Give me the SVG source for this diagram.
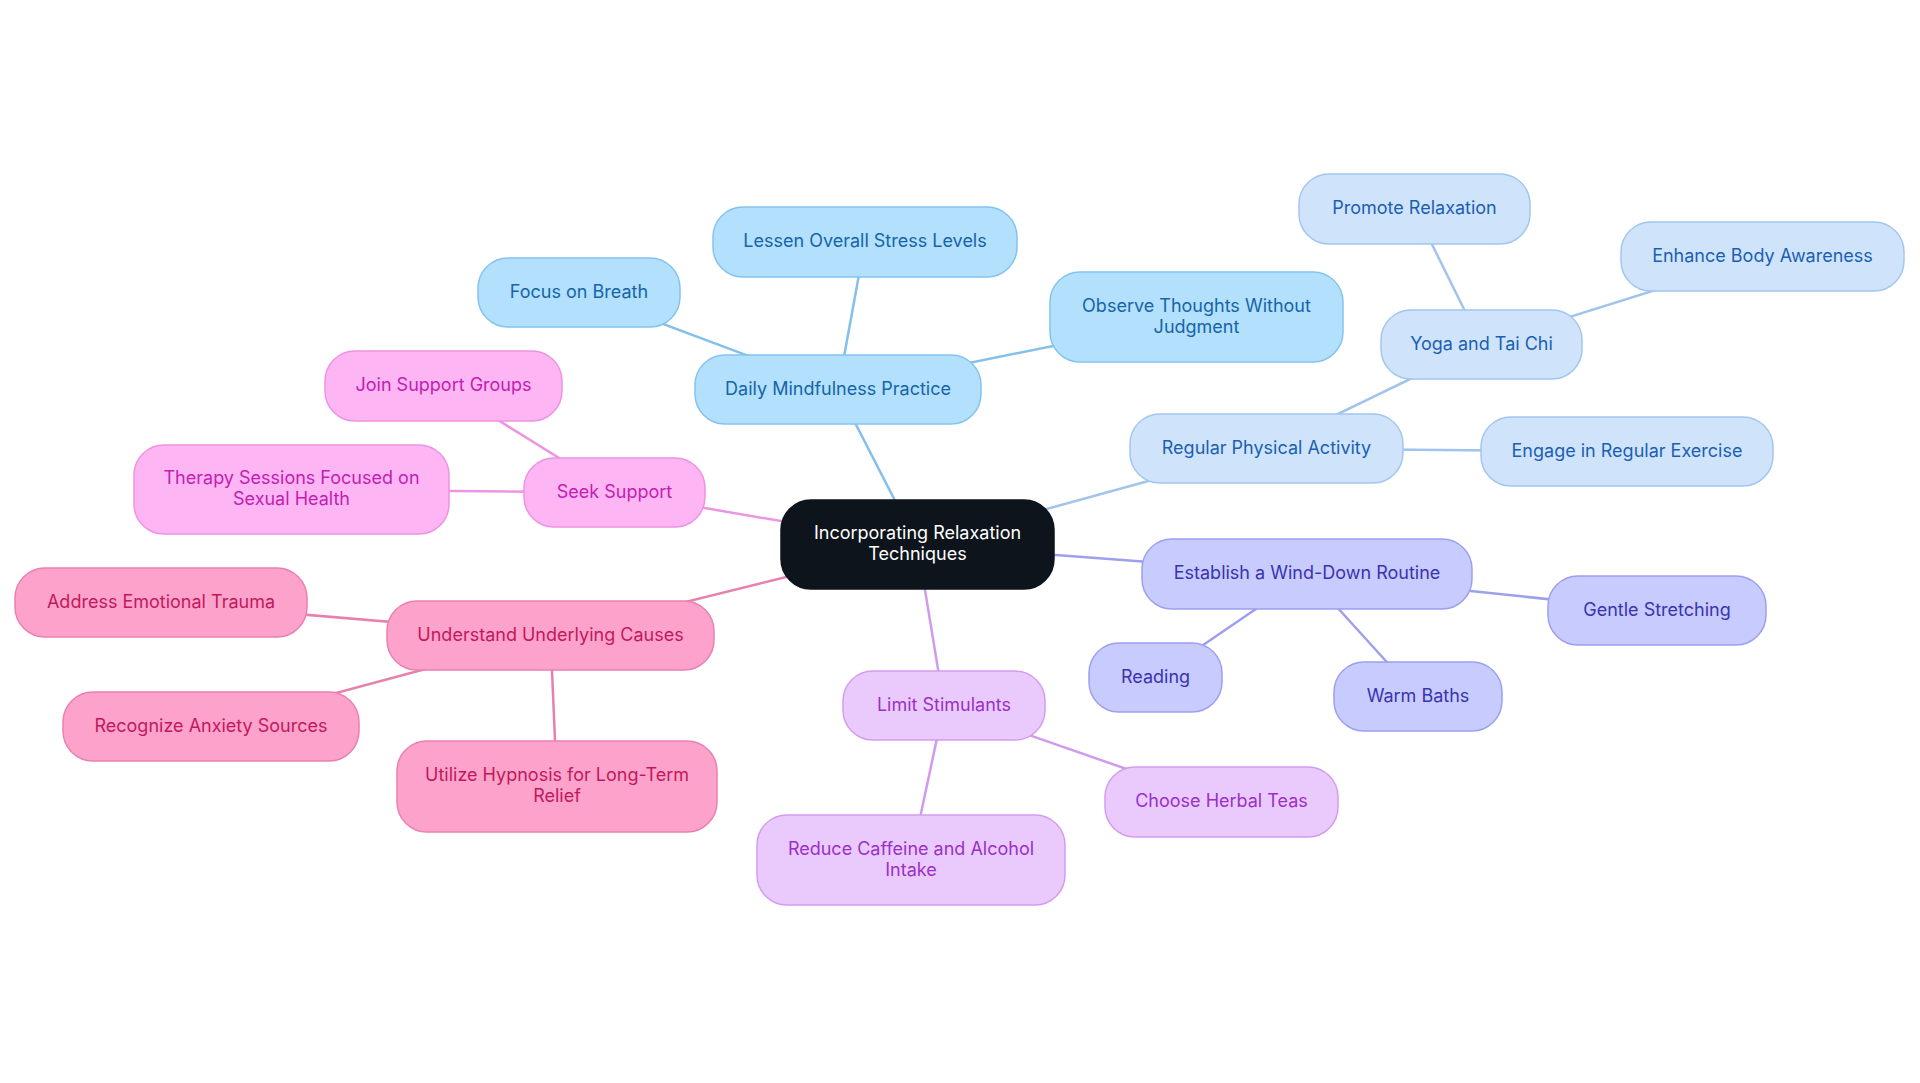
<svg xmlns="http://www.w3.org/2000/svg" width="1920" height="1083" viewBox="0 0 1920 1083">
<style>
text{font-family:Inter,"Noto Sans","Liberation Sans",sans-serif;font-size:18px;text-anchor:middle}
.e{fill:none;stroke-width:2.5}
.n{stroke-width:1.5}
.root rect{fill:#0d141c;stroke:#0d141c}
.root text{fill:#ffffff}
.sb rect{fill:#b3e0fd;stroke:#84c3ee}.sb text{fill:#1565a8}
.lb rect{fill:#cfe4fb;stroke:#a2c6ef}.lb text{fill:#1b5fb3}
.ib rect{fill:#c8cbfd;stroke:#9ca0f0}.ib text{fill:#3a33b0}
.lv rect{fill:#eacafd;stroke:#d39cf0}.lv text{fill:#9a30c6}
.pk rect{fill:#fda3cb;stroke:#ea80b1}.pk text{fill:#c2185b}
.lp rect{fill:#fdb5f4;stroke:#ee92e2}.lp text{fill:#c21eb2}
</style>
<rect width="1920" height="1083" fill="#ffffff"/>
<g id="connectors">
<g stroke="#84c0ea" class="e">
<line x1="917.5" y1="544.5" x2="838" y2="389.5"/>
<line x1="838" y1="389.5" x2="865" y2="242"/>
<line x1="838" y1="389.5" x2="579" y2="292.5"/>
<line x1="838" y1="389.5" x2="1196.5" y2="317"/>
</g>
<g stroke="#a0c4ec" class="e">
<line x1="917.5" y1="544.5" x2="1266.5" y2="448.5"/>
<line x1="1266.5" y1="448.5" x2="1481.5" y2="344.5"/>
<line x1="1266.5" y1="448.5" x2="1627" y2="451.5"/>
<line x1="1481.5" y1="344.5" x2="1414.5" y2="209"/>
<line x1="1481.5" y1="344.5" x2="1762.5" y2="256.5"/>
</g>
<g stroke="#9da0ec" class="e">
<line x1="917.5" y1="544.5" x2="1307" y2="574"/>
<line x1="1307" y1="574" x2="1657" y2="610.5"/>
<line x1="1307" y1="574" x2="1155.5" y2="677.5"/>
<line x1="1307" y1="574" x2="1418" y2="696.5"/>
</g>
<g stroke="#d09bee" class="e">
<line x1="917.5" y1="544.5" x2="944" y2="705.5"/>
<line x1="944" y1="705.5" x2="1221.5" y2="802"/>
<line x1="944" y1="705.5" x2="911" y2="860"/>
</g>
<g stroke="#e880ae" class="e">
<line x1="917.5" y1="544.5" x2="550.5" y2="635.5"/>
<line x1="550.5" y1="635.5" x2="161" y2="602.5"/>
<line x1="550.5" y1="635.5" x2="211" y2="726.5"/>
<line x1="550.5" y1="635.5" x2="557" y2="786.5"/>
</g>
<g stroke="#ee94e2" class="e">
<line x1="917.5" y1="544.5" x2="614.5" y2="492.5"/>
<line x1="614.5" y1="492.5" x2="443.5" y2="386"/>
<line x1="614.5" y1="492.5" x2="291.5" y2="489.5"/>
</g>
</g>

<g id="n-root" class="root"><rect class="n" x="781" y="500" width="273" height="89" rx="30"/><text x="917.5" y="539">Incorporating Relaxation</text><text x="917.5" y="560">Techniques</text></g>

<g id="n-daily" class="sb"><rect class="n" x="695" y="355" width="286" height="69" rx="30"/><text x="838" y="394.5">Daily Mindfulness Practice</text></g>
<g id="n-lessen" class="sb"><rect class="n" x="713" y="207" width="304" height="70" rx="30"/><text x="865" y="247">Lessen Overall Stress Levels</text></g>
<g id="n-focus" class="sb"><rect class="n" x="478" y="258" width="202" height="69" rx="30"/><text x="579" y="297.5">Focus on Breath</text></g>
<g id="n-observe" class="sb"><rect class="n" x="1050" y="272" width="293" height="90" rx="30"/><text x="1196.5" y="311.5">Observe Thoughts Without</text><text x="1196.5" y="332.5">Judgment</text></g>

<g id="n-regular" class="lb"><rect class="n" x="1130" y="414" width="273" height="69" rx="30"/><text x="1266.5" y="453.5">Regular Physical Activity</text></g>
<g id="n-yoga" class="lb"><rect class="n" x="1381" y="310" width="201" height="69" rx="30"/><text x="1481.5" y="349.5">Yoga and Tai Chi</text></g>
<g id="n-promote" class="lb"><rect class="n" x="1299" y="174" width="231" height="70" rx="30"/><text x="1414.5" y="214">Promote Relaxation</text></g>
<g id="n-enhance" class="lb"><rect class="n" x="1621" y="222" width="283" height="69" rx="30"/><text x="1762.5" y="261.5">Enhance Body Awareness</text></g>
<g id="n-engage" class="lb"><rect class="n" x="1481" y="417" width="292" height="69" rx="30"/><text x="1627" y="456.5">Engage in Regular Exercise</text></g>

<g id="n-establish" class="ib"><rect class="n" x="1142" y="539" width="330" height="70" rx="30"/><text x="1307" y="579">Establish a Wind-Down Routine</text></g>
<g id="n-gentle" class="ib"><rect class="n" x="1548" y="576" width="218" height="69" rx="30"/><text x="1657" y="615.5">Gentle Stretching</text></g>
<g id="n-reading" class="ib"><rect class="n" x="1089" y="643" width="133" height="69" rx="30"/><text x="1155.5" y="682.5">Reading</text></g>
<g id="n-warm" class="ib"><rect class="n" x="1334" y="662" width="168" height="69" rx="30"/><text x="1418" y="701.5">Warm Baths</text></g>

<g id="n-limit" class="lv"><rect class="n" x="843" y="671" width="202" height="69" rx="30"/><text x="944" y="710.5">Limit Stimulants</text></g>
<g id="n-herbal" class="lv"><rect class="n" x="1105" y="767" width="233" height="70" rx="30"/><text x="1221.5" y="807">Choose Herbal Teas</text></g>
<g id="n-reduce" class="lv"><rect class="n" x="757" y="815" width="308" height="90" rx="30"/><text x="911" y="854.5">Reduce Caffeine and Alcohol</text><text x="911" y="875.5">Intake</text></g>

<g id="n-understand" class="pk"><rect class="n" x="387" y="601" width="327" height="69" rx="30"/><text x="550.5" y="640.5">Understand Underlying Causes</text></g>
<g id="n-address" class="pk"><rect class="n" x="15" y="568" width="292" height="69" rx="30"/><text x="161" y="607.5">Address Emotional Trauma</text></g>
<g id="n-recognize" class="pk"><rect class="n" x="63" y="692" width="296" height="69" rx="30"/><text x="211" y="731.5">Recognize Anxiety Sources</text></g>
<g id="n-utilize" class="pk"><rect class="n" x="397" y="741" width="320" height="91" rx="30"/><text x="557" y="781">Utilize Hypnosis for Long-Term</text><text x="557" y="802">Relief</text></g>

<g id="n-seek" class="lp"><rect class="n" x="524" y="458" width="181" height="69" rx="30"/><text x="614.5" y="497.5">Seek Support</text></g>
<g id="n-join" class="lp"><rect class="n" x="325" y="351" width="237" height="70" rx="30"/><text x="443.5" y="391">Join Support Groups</text></g>
<g id="n-therapy" class="lp"><rect class="n" x="134" y="445" width="315" height="89" rx="30"/><text x="291.5" y="484">Therapy Sessions Focused on</text><text x="291.5" y="505">Sexual Health</text></g>
</svg>
